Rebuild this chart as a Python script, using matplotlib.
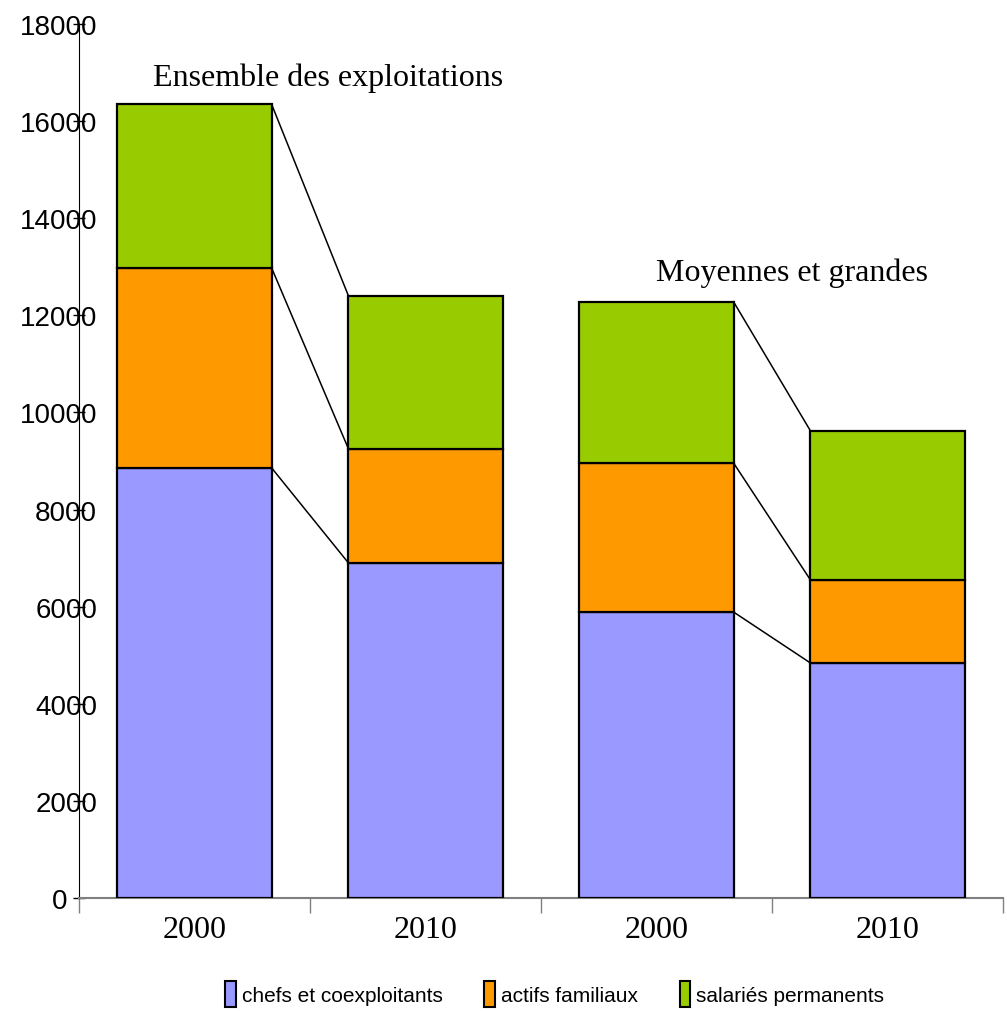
import matplotlib
matplotlib.use("Agg")
import matplotlib.pyplot as plt
from matplotlib.patches import Patch
import matplotlib.transforms as mtransforms

categories = ["2000", "2010", "2000", "2010"]
series_names = ["chefs et coexploitants", "actifs familiaux", "salariés permanents"]
chefs = [8860, 6900, 5890, 4840]
actifs = [4120, 2350, 3070, 1710]
salaries = [3370, 3150, 3320, 3070]
colors = ["#9999FF", "#FF9900", "#99CC00"]
yticks = [0, 2000, 4000, 6000, 8000, 10000, 12000, 14000, 16000, 18000]
group_labels = ["Ensemble des exploitations", "Moyennes et grandes"]

fig = plt.figure(figsize=(10.07, 10.12), dpi=100)
ax = fig.add_axes([79/1007, 113/1012, (1003-79)/1007, (899-25)/1012])

x = list(range(len(categories)))
width = 0.667
bottom = [0]*len(x)
levels = []
for vals, col, name in zip([chefs, actifs, salaries], colors, series_names):
    ax.bar(x, vals, width, bottom=bottom, color=col, edgecolor="black",
           linewidth=1.6, label=name, zorder=3)
    bottom = [b + v for b, v in zip(bottom, vals)]
    levels.append(list(bottom))

# series connector lines within each group
for lev in levels:
    for i in (0, 2):
        ax.plot([x[i] + width/2, x[i+1] - width/2], [lev[i], lev[i+1]],
                color="black", lw=1.1, zorder=2)

ax.set_xlim(-0.5, 3.5)
ax.set_ylim(0, 18000)

ax.spines["top"].set_visible(False)
ax.spines["right"].set_visible(False)
ax.spines["left"].set_color("black")
ax.spines["bottom"].set_color("#808080")
ax.spines["bottom"].set_linewidth(1.5)

ax.set_yticks(yticks)
ax.set_yticklabels([str(v) for v in yticks], fontfamily="Liberation Sans", fontsize=20)
ax.tick_params(axis="y", direction="inout", length=9, width=1, pad=-17.5)
for lab in ax.get_yticklabels():
    n = len(lab.get_text())
    shift = 0 if n >= 4 else -30
    lab.set_transform(lab.get_transform() +
                      mtransforms.ScaledTranslation(shift/100, 0, fig.dpi_scale_trans))

ax.set_xticks([-0.5, 0.5, 1.5, 2.5, 3.5])
ax.set_xticklabels([])
ax.set_xticks(x, minor=True)
ax.set_xticklabels(categories, minor=True, fontfamily="Liberation Serif", fontsize=23)
ax.tick_params(axis="x", which="major", direction="out", length=11, width=1, color="#808080")
ax.tick_params(axis="x", which="minor", length=0, pad=12)

ax.text(-0.18, 16910, group_labels[0], fontfamily="Liberation Serif", fontsize=23,
        ha="left", va="center")
ax.text(2.0, 12894, group_labels[1], fontfamily="Liberation Serif", fontsize=23,
        ha="left", va="center")

handles = [Patch(facecolor=c, edgecolor="black", linewidth=1.5) for c in colors]
ax.legend(handles, series_names, loc="center", bbox_to_anchor=(0.515, -0.11),
          ncol=3, frameon=False, handlelength=0.5, handleheight=1.5,
          handletextpad=0.3, columnspacing=2.0, prop={"family": "Liberation Sans", "size": 15})

fig.savefig("out.png", dpi=100)
